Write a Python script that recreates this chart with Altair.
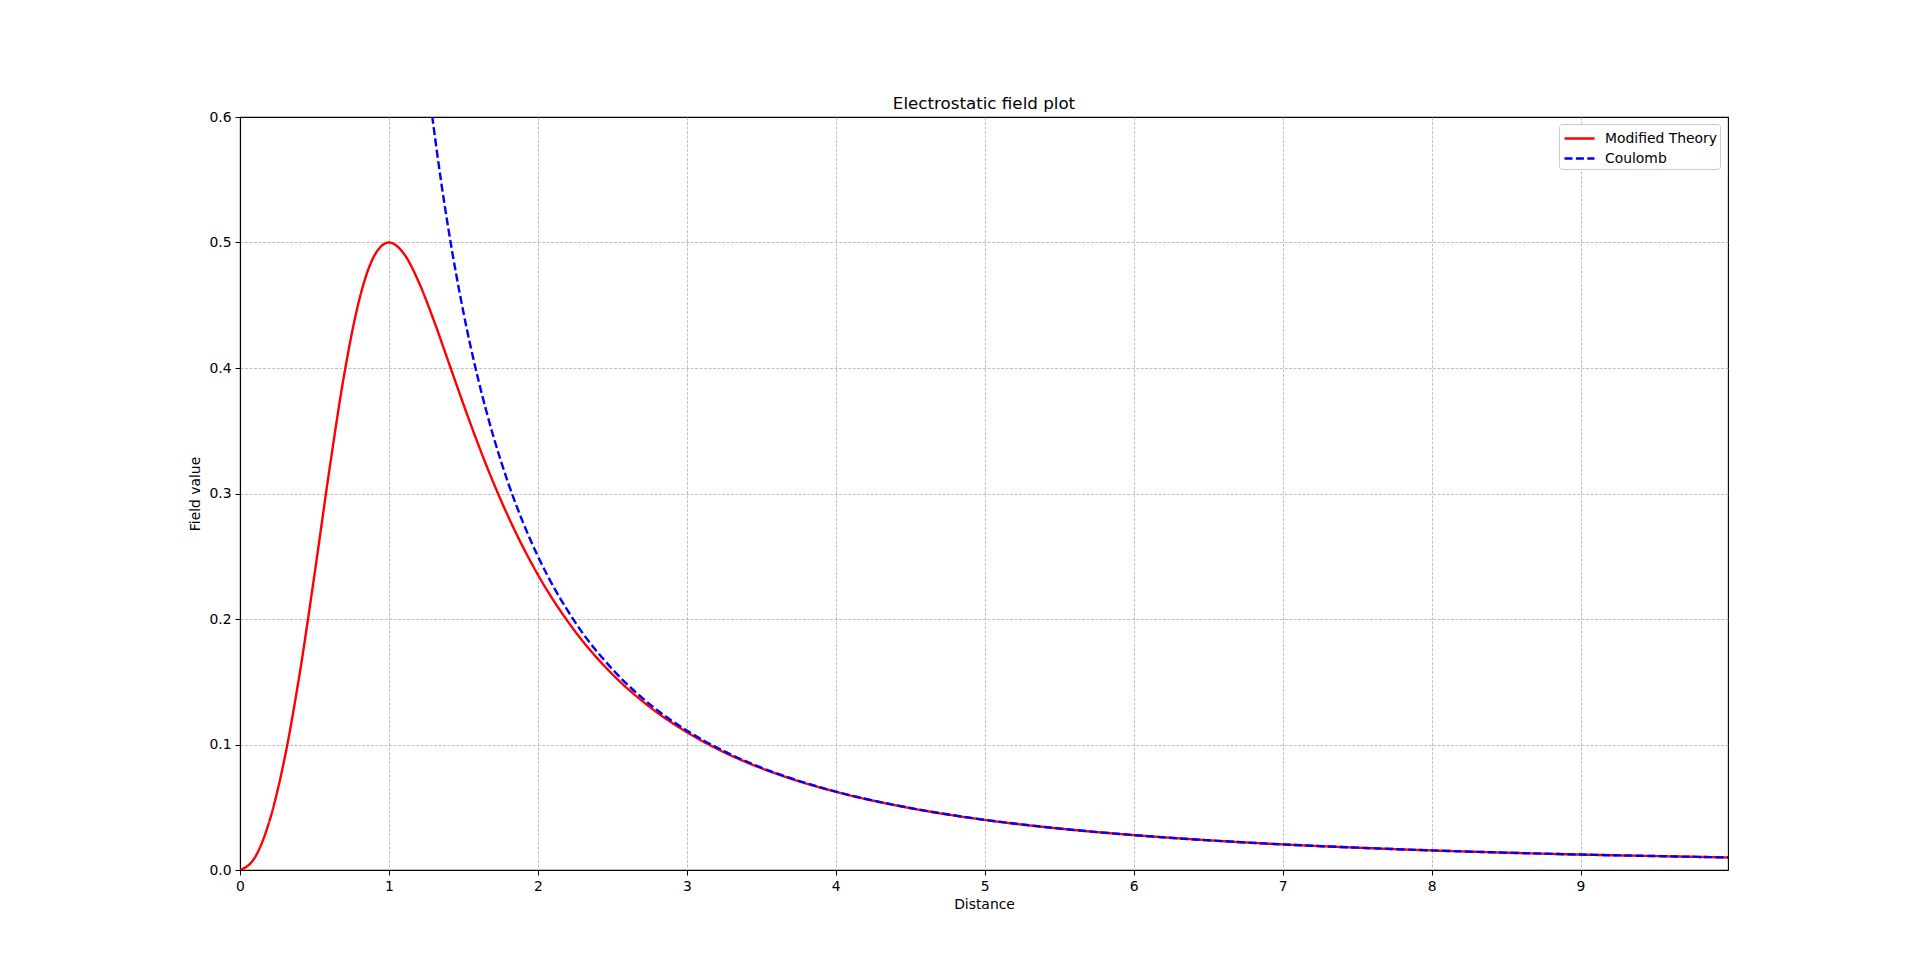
import altair as alt
import pandas as pd

# Values
mod_x = [0, 0.1, 0.2, 0.3, 0.4, 0.5, 0.6, 0.7, 0.8, 0.9, 1.0, 1.1, 1.2, 1.3, 1.4, 1.5,
         1.6, 1.7, 1.8, 1.9, 2.0, 2.25, 2.5, 2.75, 3.0, 3.25, 3.5, 3.75, 4.0, 4.5, 5.0,
         5.5, 6.0, 6.5, 7.0, 7.5, 8.0, 8.5, 9.0, 9.5, 9.99]
mod_y = [0.0, 0.0100, 0.0399, 0.0893, 0.1560, 0.2353, 0.3187, 0.3951, 0.4540, 0.4891,
         0.5000, 0.4911, 0.4685, 0.4383, 0.4048, 0.3711, 0.3389, 0.3090, 0.2818, 0.2573,
         0.2353, 0.1901, 0.1560, 0.1300, 0.1098, 0.0938, 0.0811, 0.0708, 0.0623, 0.0493,
         0.0399, 0.0330, 0.0278, 0.0237, 0.0204, 0.0178, 0.0156, 0.0138, 0.0123, 0.0111,
         0.0100]

coul_x = [1.29, 1.35, 1.4, 1.5, 1.6, 1.7, 1.8, 1.9, 2.0, 2.25, 2.5, 2.75, 3.0, 3.25,
          3.5, 3.75, 4.0, 4.5, 5.0, 5.5, 6.0, 6.5, 7.0, 7.5, 8.0, 8.5, 9.0, 9.5, 9.99]
coul_y = [0.6010, 0.5487, 0.5102, 0.4444, 0.3906, 0.3460, 0.3086, 0.2770, 0.2500,
          0.1975, 0.1600, 0.1322, 0.1111, 0.0947, 0.0816, 0.0711, 0.0625, 0.0494,
          0.0400, 0.0331, 0.0278, 0.0237, 0.0204, 0.0178, 0.0156, 0.0138, 0.0123,
          0.0111, 0.0100]

series_names = ["Modified Theory", "Coulomb"]
series_colors = ["red", "blue"]
x_ticks = [0, 1, 2, 3, 4, 5, 6, 7, 8, 9]
y_ticks = [0.0, 0.1, 0.2, 0.3, 0.4, 0.5, 0.6]

df_mod = pd.DataFrame({"x": mod_x, "y": mod_y, "series": series_names[0]})
df_coul = pd.DataFrame({"x": coul_x, "y": coul_y, "series": series_names[1]})

FONT = "DejaVu Sans"
LW = 2.4

x_enc = alt.X("x:Q",
              scale=alt.Scale(domain=[0, 9.99], nice=False, zero=False),
              axis=alt.Axis(values=x_ticks, format="d", title="Distance",
                            labelFlush=False, titlePadding=5))
y_enc = alt.Y("y:Q",
              scale=alt.Scale(domain=[0, 0.6], nice=False),
              axis=alt.Axis(values=y_ticks, format=".1f", title="Field value",
                            labelFlush=False, titlePadding=6,
                            gridOpacity={"condition": {"test": "datum.value >= 0.59", "value": 0},
                                         "value": 1}))
color_enc = alt.Color("series:N",
                      scale=alt.Scale(domain=series_names, range=series_colors),
                      legend=alt.Legend(title=None, orient="none", legendX=1319, legendY=7,
                                        symbolType="M-0.9,0H2.1", symbolSize=400,
                                        symbolStrokeWidth=LW,
                                        labelFontSize=13.9, labelFont=FONT,
                                        rowPadding=1, padding=3,
                                        fillColor="white", strokeColor="#cccccc",
                                        cornerRadius=3, labelOffset=20))
dash_enc = alt.StrokeDash("series:N",
                          scale=alt.Scale(domain=series_names,
                                          range=[[1, 0], [8, 3.4]]),
                          legend=None)

modified = alt.Chart(df_mod).mark_line(strokeWidth=LW, clip=True, interpolate="monotone").encode(
    x=x_enc, y=y_enc, color=color_enc, strokeDash=dash_enc)
coulomb = alt.Chart(df_coul).mark_line(strokeWidth=LW, clip=True, interpolate="monotone").encode(
    x=x_enc, y=y_enc, color=color_enc, strokeDash=dash_enc)

chart = alt.layer(modified, coulomb).properties(
    width=1488, height=753,
    title=alt.TitleParams("Electrostatic field plot", fontSize=16.7, font=FONT,
                          fontWeight="normal", anchor="middle", offset=-3, color="black",
                          frame="group"),
    autosize=alt.AutoSizeParams(type="none"),
    padding={"left": 232, "top": 109, "right": 150, "bottom": 80},
).configure_view(
    stroke="black", strokeWidth=1.1
).configure_axis(
    labelFont=FONT, titleFont=FONT, labelFontSize=13.9, titleFontSize=13.9,
    titleFontWeight="normal", labelColor="black", titleColor="black",
    domainColor="black", tickColor="black", tickSize=5, labelPadding=4,
    grid=True, gridColor="#b0b0b0", gridDash=[3, 1.5], gridWidth=0.8,
    domain=True, domainWidth=1.1
)

chart.save("out.html", embed_options={"renderer": "svg", "actions": False})
